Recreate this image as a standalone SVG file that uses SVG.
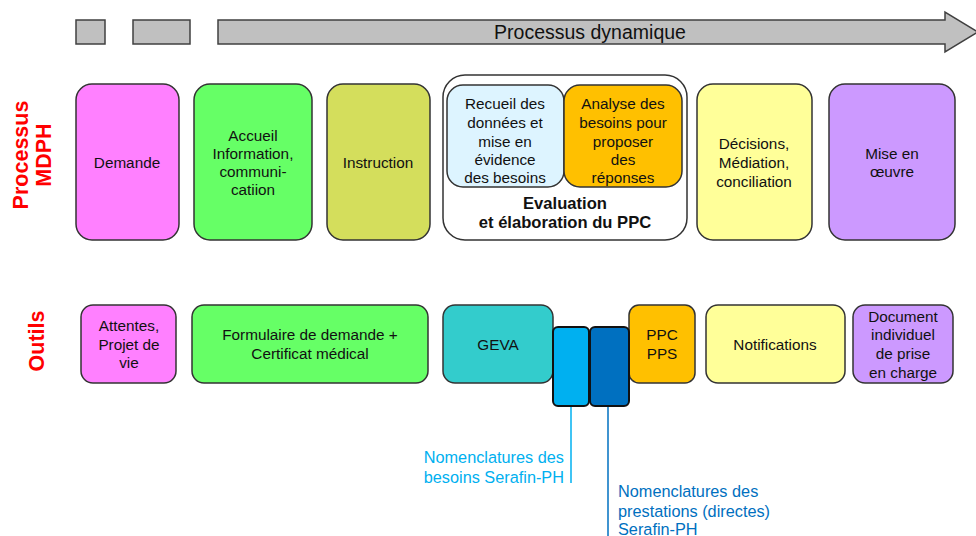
<svg xmlns="http://www.w3.org/2000/svg" width="976" height="536" viewBox="0 0 976 536">
<style>
text{font-family:"Liberation Sans",Arial,sans-serif;font-size:15.3px;fill:#111;text-anchor:middle;dominant-baseline:central}
.box{stroke:#333;stroke-width:1.5}
.gray{fill:#C0C0C0;stroke:#404040;stroke-width:1.5}
.lbl{font-size:21.5px;font-weight:bold;fill:#FF0000}
.nl{font-size:16.3px;text-anchor:start}
.ev{font-weight:bold;font-size:16.6px}
</style>
<rect width="976" height="536" fill="#fff"/>
<g id="timeline">
<rect class="gray" x="76" y="20" width="29" height="24"/>
<rect class="gray" x="133" y="20" width="57" height="24"/>
<polygon class="gray" points="218,20 945,20 945,12 978,32 945,52 945,44 218,44"/>
<text x="590" y="32" style="font-size:19.5px">Processus dynamique</text>
</g>
<g id="label-processus">
<text class="lbl" transform="translate(21,155) rotate(-90)">Processus</text>
<text class="lbl" transform="translate(44,155) rotate(-90)">MDPH</text>
</g>
<g id="label-outils">
<text class="lbl" transform="translate(37,341) rotate(-90)">Outils</text>
</g>
<g id="demande"><rect class="box" x="76" y="84" width="103" height="156" rx="16" fill="#FF80FF"/><text x="127" y="162">Demande</text></g>
<g id="accueil"><rect class="box" x="194" y="84" width="118" height="156" rx="16" fill="#66FF66"/><text x="253" y="135">Accueil</text><text x="253" y="153">Information,</text><text x="253" y="171">communi-</text><text x="253" y="189">catiion</text></g>
<g id="instruction"><rect class="box" x="327" y="84" width="103" height="156" rx="16" fill="#D4DE5C"/><text x="378" y="162">Instruction</text></g>
<g id="evaluation"><rect x="443" y="75" width="244" height="165" rx="22" fill="#fff" stroke="#333" stroke-width="1.5"/>
<text class="ev" x="565" y="203">Evaluation</text><text class="ev" x="565" y="222">et élaboration du PPC</text></g>
<g id="recueil"><rect class="box" x="447" y="85" width="117" height="102" rx="16" fill="#DDF4FF"/><text x="505" y="103">Recueil des</text><text x="505" y="122">données et</text><text x="505" y="141">mise en</text><text x="505" y="159">évidence</text><text x="505" y="177">des besoins</text></g>
<g id="analyse"><rect class="box" x="564" y="85" width="118" height="102" rx="16" fill="#FFC000"/><text x="623" y="103">Analyse des</text><text x="623" y="122">besoins pour</text><text x="623" y="141">proposer</text><text x="623" y="159">des</text><text x="623" y="177">réponses</text></g>
<g id="decisions"><rect class="box" x="697" y="84" width="115" height="156" rx="16" fill="#FFFF99"/><text x="754" y="143">Décisions,</text><text x="754" y="162">Médiation,</text><text x="754" y="181">conciliation</text></g>
<g id="mise"><rect class="box" x="829" y="84" width="126" height="156" rx="16" fill="#CC99FF"/><text x="892" y="153">Mise en</text><text x="892" y="171">œuvre</text></g>
<g id="connectors" fill="none" stroke-width="1.5">
<line x1="571" y1="406" x2="571" y2="483" stroke="#00B0F0"/>
<line x1="608" y1="406" x2="608" y2="536" stroke="#0070C0"/>
</g>
<g id="attentes"><rect class="box" x="81" y="305" width="95" height="78" rx="12" fill="#FF80FF"/><text x="129" y="325">Attentes,</text><text x="129" y="344">Projet de</text><text x="129" y="362">vie</text></g>
<g id="formulaire"><rect class="box" x="192" y="305" width="236" height="78" rx="12" fill="#66FF66"/><text x="310" y="334">Formulaire de demande +</text><text x="310" y="353">Certificat médical</text></g>
<g id="geva"><rect class="box" x="443" y="305" width="110" height="78" rx="12" fill="#33CCCC"/><text x="498" y="344">GEVA</text></g>
<g id="ppc"><rect class="box" x="629" y="305" width="66" height="78" rx="10" fill="#FFC000"/><text x="662" y="334">PPC</text><text x="662" y="353">PPS</text></g>
<g id="nomenc-besoins"><rect x="553" y="327" width="36" height="79" rx="5" fill="#00B0F0" stroke="#111" stroke-width="2"/></g>
<g id="nomenc-prestations"><rect x="590" y="327" width="39" height="79" rx="5" fill="#0070C0" stroke="#111" stroke-width="2"/></g>
<g id="notifications"><rect class="box" x="706" y="305" width="139" height="78" rx="12" fill="#FFFF99"/><text x="775" y="344">Notifications</text></g>
<g id="document"><rect class="box" x="853" y="305" width="100" height="78" rx="12" fill="#CC99FF"/><text x="903" y="316">Document</text><text x="903" y="334">individuel</text><text x="903" y="353">de prise</text><text x="903" y="372">en charge</text></g>
<g id="labels-nomenc">
<text class="nl" x="564" y="457" style="text-anchor:end;fill:#00B0F0">Nomenclatures des</text>
<text class="nl" x="564" y="477" style="text-anchor:end;fill:#00B0F0">besoins Serafin-PH</text>
<text class="nl" x="618" y="491" style="fill:#0070C0">Nomenclatures des</text>
<text class="nl" x="618" y="511" style="fill:#0070C0">prestations (directes)</text>
<text class="nl" x="618" y="529" style="fill:#0070C0">Serafin-PH</text>
</g>
</svg>
